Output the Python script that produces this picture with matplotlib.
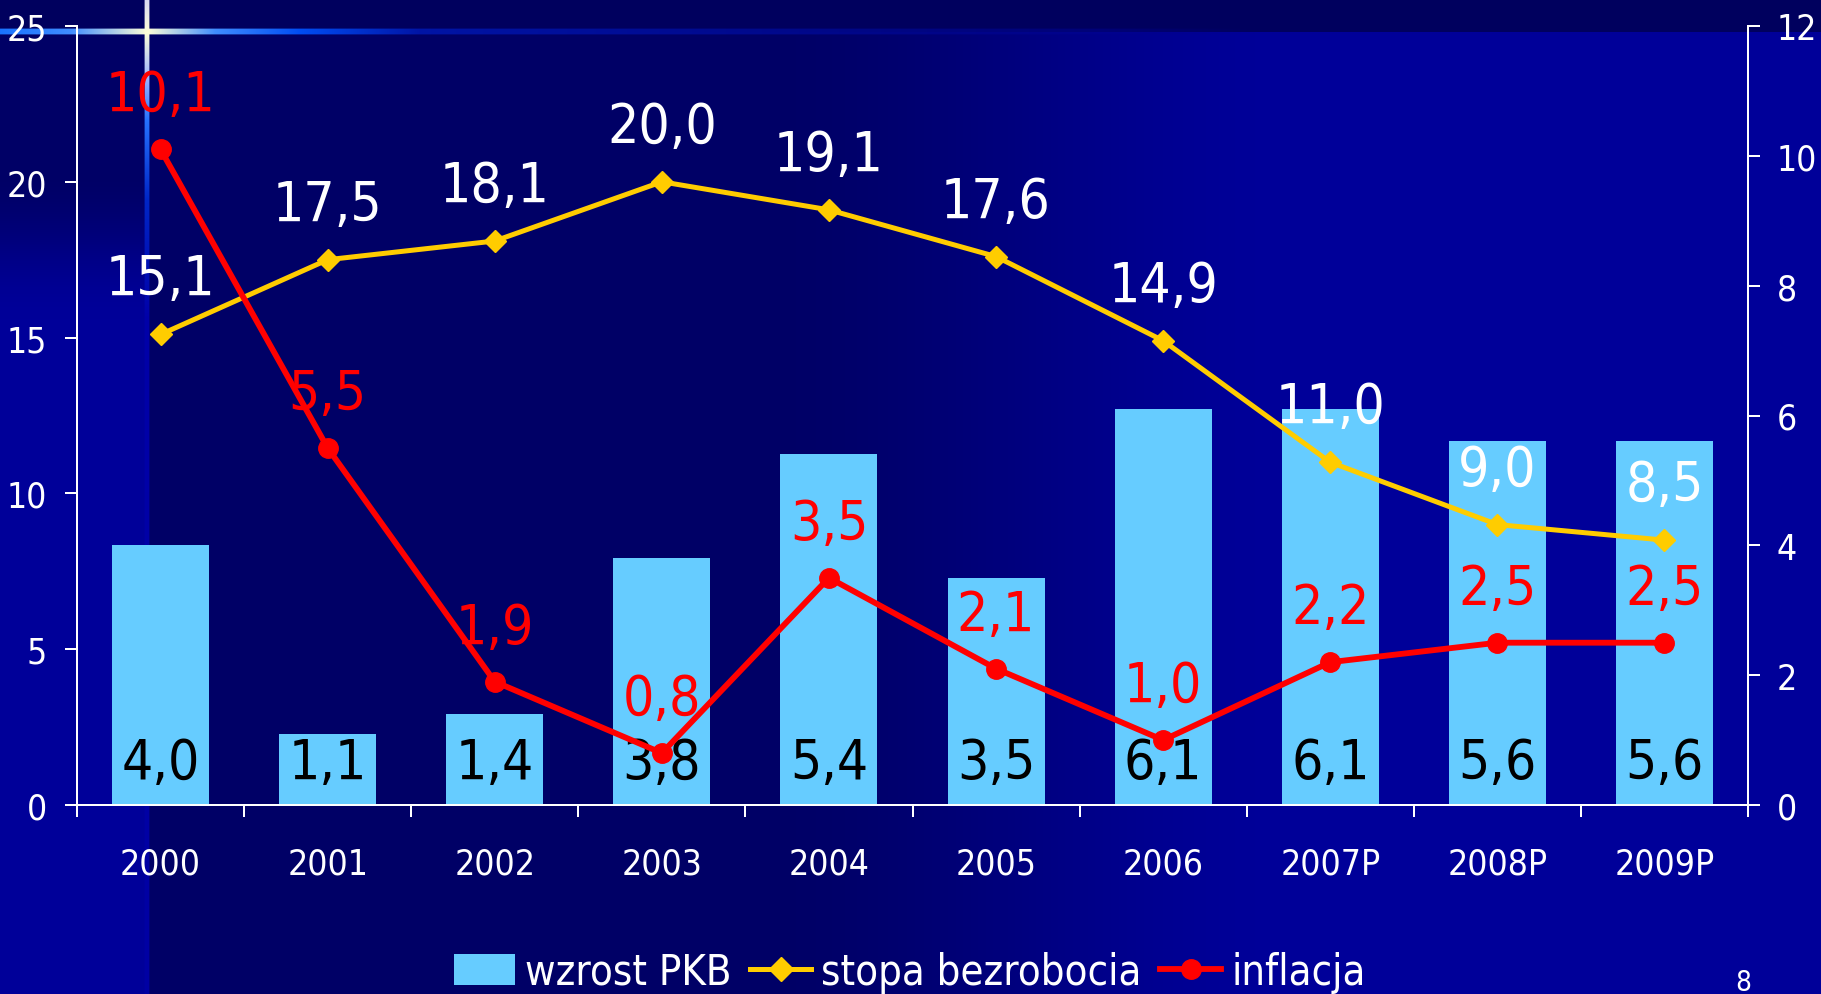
import numpy as np
import matplotlib
matplotlib.use('Agg')
import matplotlib.pyplot as plt
from matplotlib.lines import Line2D
from matplotlib.patches import Patch

plt.rcParams['font.family'] = ['DejaVu Sans']
plt.rcParams['font.stretch'] = 'condensed'

# ---------------- data ----------------
years = ['2000', '2001', '2002', '2003', '2004', '2005', '2006', '2007P', '2008P', '2009P']
gdp_growth = [4.0, 1.1, 1.4, 3.8, 5.4, 3.5, 6.1, 6.1, 5.6, 5.6]          # right axis
unemployment = [15.1, 17.5, 18.1, 20.0, 19.1, 17.6, 14.9, 11.0, 9.0, 8.5]  # left axis
inflation = [10.1, 5.5, 1.9, 0.8, 3.5, 2.1, 1.0, 2.2, 2.5, 2.5]           # right axis
left_ticks = [0, 5, 10, 15, 20, 25]
right_ticks = [0, 2, 4, 6, 8, 10, 12]
legend_labels = ['wzrost PKB', 'stopa bezrobocia', 'inflacja']
page_number = '8'

def fmt(v):
    return f'{v:.1f}'.replace('.', ',')

W, H = 1821, 995
DPI = 100
PX = 72.0 / DPI   # points per pixel

fig = plt.figure(figsize=(W / DPI, H / DPI), dpi=DPI)

# ---------------- background (slide) ----------------
dark = np.array([0.0, 0.0, 0.40])
bright = np.array([0.0, 0.0, 0.60])
xs = np.arange(W, dtype=float)
ys = np.arange(H, dtype=float)
t = np.clip((xs - 750) / (1300 - 750), 0, 1)
t = t * t * (3 - 2 * t)
row = dark[None, :] + (bright - dark)[None, :] * t[:, None]
bg = np.repeat(row[None, :, :], H, axis=0)
tv = np.clip((ys - 170) / (320 - 170), 0, 1)
tv = tv * tv * (3 - 2 * tv)
strip = dark[None, :] + (bright - dark)[None, :] * tv[:, None]
bg[:, :145, :] = strip[:, None, :]
bg[:33, :, :] = np.array([0.0, 0.0, 0.37])


def ramp(pos, stops):
    ps = [s[0] for s in stops]
    return np.stack([np.interp(pos, ps, [s[1][i] for s in stops]) for i in range(3)], axis=-1)

# horizontal glow line
hx = np.arange(0, 1250, dtype=float)
hcol = ramp(hx, [(0, (0.10, 0.45, 1.0)), (70, (0.25, 0.55, 1.0)), (147, (1.0, 1.0, 0.85)),
                 (215, (0.25, 0.55, 1.0)), (300, (0.0, 0.30, 0.95)), (420, (0.0, 0.08, 0.65)),
                 (1250, (0.0, 0.0, 0.55))])
halpha = np.interp(hx, [0, 420, 1100, 1250], [1, 1, 0.5, 0])
for yy, a in [(29, 0.4), (30, 1), (31, 1), (32, 1), (33, 1), (34, 1), (35, 0.4)]:
    aa = (halpha * a)[:, None]
    bg[yy, :1250, :] = bg[yy, :1250, :] * (1 - aa) + hcol * aa
# vertical glow line
vy = np.arange(0, H, dtype=float)
vcol = ramp(vy, [(0, (0.85, 0.85, 0.95)), (33, (1.0, 1.0, 0.85)), (80, (0.6, 0.7, 1.0)),
                 (120, (0.15, 0.45, 1.0)), (200, (0.0, 0.15, 0.78)), (320, (0.0, 0.0, 0.66)),
                 (H, (0.0, 0.0, 0.64))])
for xx, a in [(144, 0.4), (145, 1), (146, 1), (147, 1), (148, 1), (149, 0.4)]:
    bg[:, xx, :] = bg[:, xx, :] * (1 - a) + vcol * a

bgax = fig.add_axes([0, 0, 1, 1], zorder=-10)
bgax.imshow(bg, aspect='auto', interpolation='nearest', extent=(0, 1, 0, 1))
bgax.set_axis_off()

# ---------------- axes ----------------
L, R, B, T = 77 / W, 1748 / W, 1 - 806 / H, 1 - 27 / H
ax = fig.add_axes([L, B, R - L, T - B])
ax.set_facecolor('none')
ax_u = ax.twinx()
ax_i = ax.twinx()
for a in (ax_u, ax_i):
    a.set_facecolor('none')
    for s in a.spines.values():
        s.set_visible(False)

x = np.arange(len(years))
ax.bar(x, gdp_growth, width=0.58, color='#66CCFF', zorder=2)
ax.set_xlim(-0.5, len(years) - 0.5)
ax.set_ylim(0, 12)
ax_i.set_ylim(0, 12)
ax_u.set_ylim(0, 25)

ax.spines['top'].set_visible(False)
for k in ('left', 'right', 'bottom'):
    ax.spines[k].set_color('white')
    ax.spines[k].set_linewidth(2 * PX)

tick_len = 12 * PX
tick_w = 2 * PX
fs_tick = 25.5
ax.set_yticks(right_ticks)
ax.yaxis.tick_right()
ax.tick_params(axis='y', which='both', right=True, left=False, labelright=True, labelleft=False,
               colors='white', labelsize=fs_tick, length=tick_len, width=tick_w, pad=17 * PX,
               direction='out')
ax_u.set_yticks(left_ticks)
ax_u.yaxis.tick_left()
ax_u.tick_params(axis='y', left=True, right=False, labelleft=True, labelright=False,
                 colors='white', labelsize=fs_tick, length=tick_len, width=tick_w, pad=18 * PX,
                 direction='out')
ax_i.set_yticks([])

ax.set_xticks(x)
ax.set_xticklabels(years)
ax.set_xticks(np.arange(-0.5, len(years), 1), minor=True)
ax.tick_params(axis='x', which='major', length=0, pad=42 * PX, labelsize=fs_tick, colors='white')
ax.tick_params(axis='x', which='minor', length=tick_len, width=tick_w, color='white',
               direction='out')

fs_lab = 39.5
# GDP labels inside bars
for xi, v in zip(x, gdp_growth):
    ax.annotate(fmt(v), (xi, 0), xytext=(0, 27 * PX), textcoords='offset points',
                ha='center', va='baseline', fontsize=fs_lab, color='black', zorder=3)

# unemployment line
ax_u.plot(x, unemployment, color='#FFCC00', lw=3.6, marker='D', ms=11, zorder=3)
for xi, v in zip(x, unemployment):
    ax_u.annotate(fmt(v), (xi, v), xytext=(0, 40 * PX), textcoords='offset points',
                  ha='center', va='baseline', fontsize=fs_lab, color='white', zorder=4,
                  annotation_clip=False)

# inflation line
ax_i.plot(x, inflation, color='#FF0000', lw=4.2, marker='o', ms=14, zorder=3)
for xi, v in zip(x, inflation):
    ax_i.annotate(fmt(v), (xi, v), xytext=(0, 39 * PX), textcoords='offset points',
                  ha='center', va='baseline', fontsize=fs_lab, color='#FF0000', zorder=4,
                  annotation_clip=False)

# ---------------- legend ----------------
handles = [Patch(facecolor='#66CCFF', edgecolor='none'),
           Line2D([], [], color='#FFCC00', lw=3.6, marker='D', ms=12),
           Line2D([], [], color='#FF0000', lw=4.2, marker='o', ms=14)]
fig.legend(handles, legend_labels, loc='center', bbox_to_anchor=(910 / W, 1 - 973 / H),
           ncol=3, frameon=False, fontsize=30, labelcolor='white',
           handlelength=1.45, handleheight=0.75, handletextpad=0.25, columnspacing=0.45,
           borderpad=0, borderaxespad=0)

fig.text(1743 / W, 1 - 991 / H, page_number, color='white', fontsize=20,
         ha='center', va='baseline')

fig.savefig('out.png', dpi=DPI, facecolor=fig.get_facecolor())
